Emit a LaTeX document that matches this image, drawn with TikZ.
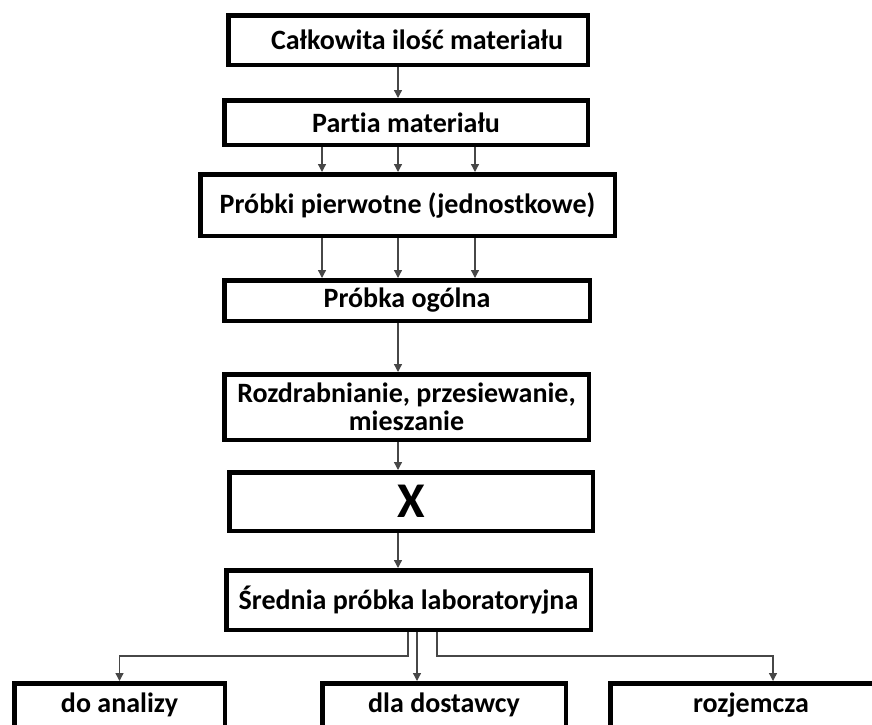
\documentclass[tikz,border=0pt]{standalone}
\usepackage{fontspec}
\setmainfont{Carlito}[Ligatures=NoCommon]
\usetikzlibrary{arrows.meta}
\tikzset{
  box/.style={draw=black, line width=4.5pt, fill=white, inner sep=0pt, align=center,
    font=\bfseries\fontsize{28}{24}\selectfont},
  arr/.style={draw=black!72, line width=1.3pt, -{Triangle[length=8pt,width=8pt]}},
}
\begin{document}
\begin{tikzpicture}[x=1pt,y=-1pt]
\useasboundingbox (0,0) rectangle (872,724);
% boxes
\node[box, minimum width=359.5pt, minimum height=49.5pt] (cal) at (408,40) {\hspace*{18pt}Całkowita ilość materiału};
\node[box, minimum width=363.5pt, minimum height=44.5pt] (par) at (406,122.5) {Partia materiału};
\node[box, minimum width=414.5pt, minimum height=61.5pt] (pri) at (407.5,205) {Próbki pierwotne (jednostkowe)};
\node[box, minimum width=365.5pt, minimum height=40.5pt] (ogo) at (407,300.5) {Próbka ogólna};
\node[box, minimum width=364.5pt, minimum height=65.5pt, font=\bfseries\fontsize{28}{28}\selectfont] (roz) at (406.5,407) {Rozdrabnianie, przesiewanie,\\mieszanie};
\node[box, minimum width=363.5pt, minimum height=58.5pt, font=\bfseries\fontsize{50}{50}\selectfont] (xx) at (411,501.5) {X};
\node[box, minimum width=364.5pt, minimum height=59.5pt] (sre) at (408.5,600) {Średnia próbka laboratoryjna};
\node[box, minimum width=210.5pt, minimum height=43.5pt] (ana) at (119.5,705) {do analizy};
\node[box, minimum width=243.5pt, minimum height=43.5pt] (dla) at (444,705) {dla dostawcy};
\node[box, minimum width=281.5pt, minimum height=43.5pt] (roj) at (751,705) {rozjemcza};
% helper coordinates
\coordinate (m) at (398,0);
\coordinate (l) at (322,0);
\coordinate (r) at (475,0);
\coordinate (b1) at (408,0);
\coordinate (b2) at (417,0);
\coordinate (b3) at (437,0);
\coordinate (r3) at (773,0);
\coordinate (hy) at (0,656);
% connectors
\draw[arr] (cal.south -| m) -- (par.north -| m);
\draw[arr] (par.south -| l) -- (pri.north -| l);
\draw[arr] (par.south -| m) -- (pri.north -| m);
\draw[arr] (par.south -| r) -- (pri.north -| r);
\draw[arr] (pri.south -| l) -- (ogo.north -| l);
\draw[arr] (pri.south -| m) -- (ogo.north -| m);
\draw[arr] (pri.south -| r) -- (ogo.north -| r);
\draw[arr] (ogo.south -| m) -- (roz.north -| m);
\draw[arr] (roz.south -| m) -- (xx.north -| m);
\draw[arr] (xx.south -| m) -- (sre.north -| m);
\draw[arr] (sre.south -| b1) -- (b1 |- hy) -| (ana.north);
\draw[arr] (sre.south -| b2) -- (dla.north -| b2);
\draw[arr] (sre.south -| b3) -- (b3 |- hy) -| (r3 |- roj.north);
\end{tikzpicture}
\end{document}
